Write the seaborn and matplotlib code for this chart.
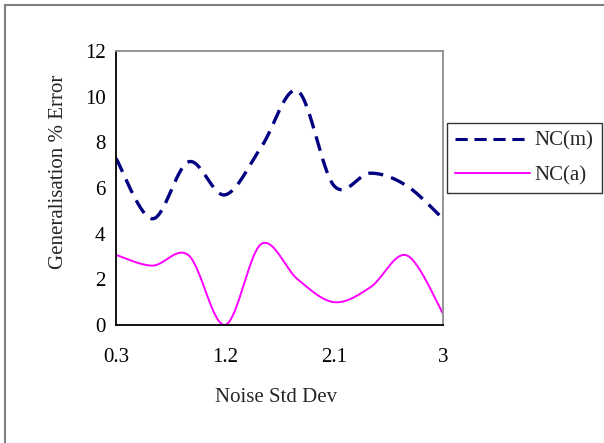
import numpy as np
import pandas as pd
import matplotlib
matplotlib.use("Agg")
import matplotlib.pyplot as plt
from matplotlib.lines import Line2D
from matplotlib.patches import Rectangle
import seaborn as sns

# values (Excel smoothed lines through these points)
noise_sd = [0.3, 0.6, 0.9, 1.2, 1.5, 1.8, 2.1, 2.4, 2.7, 3.0]
nc_m = [7.3, 4.65, 7.15, 5.7, 7.8, 10.25, 6.1, 6.65, 6.1, 4.65]
nc_a = [3.07, 2.6, 3.05, 0.0, 3.55, 2.0, 1.0, 1.65, 3.05, 0.5]
x_ticklabels = ["0.3", "1.2", "2.1", "3"]


def smooth(xs, ys, sx=121.3, sy=22.8, n=30):
    # Catmull-Rom path in screen-like units, like Excel's "smoothed line"
    p = np.column_stack([np.array(xs) * sx, np.array(ys) * sy])
    ext = np.vstack([p[0], p, p[-1]])
    out = []
    for i in range(len(p) - 1):
        p0, p1, p2, p3 = ext[i], ext[i + 1], ext[i + 2], ext[i + 3]
        m1 = (p2 - p0) / 2
        m2 = (p3 - p1) / 2
        t = np.linspace(0, 1, n, endpoint=False)[:, None]
        h00 = 2 * t**3 - 3 * t**2 + 1
        h10 = t**3 - 2 * t**2 + t
        h01 = -2 * t**3 + 3 * t**2
        h11 = t**3 - t**2
        out.append(h00 * p1 + h10 * m1 + h01 * p2 + h11 * m2)
    out.append(p[-1:])
    out = np.vstack(out)
    return out[:, 0] / sx, out[:, 1] / sy


sns.set_theme(style="white")
plt.rcParams["font.family"] = ["Liberation Serif", "DejaVu Serif"]
FS = 15

fig = plt.figure(figsize=(6.04, 4.43), dpi=100)
ax = fig.add_axes([116 / 604, 1 - 325 / 443, 327 / 604, 274 / 443])

mx, my = smooth(noise_sd, nc_m)
ax_, ay_ = smooth(noise_sd, nc_a)
df_m = pd.DataFrame({"x": mx, "y": my})
df_a = pd.DataFrame({"x": ax_, "y": ay_})

sns.lineplot(data=df_m, x="x", y="y", ax=ax, color="#000080", lw=2.4,
             linestyle=(0, (4.5, 2.5)), sort=False, estimator=None)
sns.lineplot(data=df_a, x="x", y="y", ax=ax, color="#FF00FF", lw=1.4,
             sort=False, estimator=None)

ax.set_xlim(0.3, 3.0)
ax.set_ylim(0, 12)
ax.set_xticks(noise_sd)
ax.set_xticklabels([x_ticklabels[i // 3] if i % 3 == 0 else "" for i in range(len(noise_sd))])
ax.set_yticks(range(0, 13, 2))
ax.tick_params(axis="both", direction="inout", length=9, width=1.0,
               colors="black", labelsize=FS)
ax.tick_params(axis="y", pad=3)
ax.tick_params(axis="x", pad=12)

for side in ["left", "bottom"]:
    ax.spines[side].set_color("black")
    ax.spines[side].set_linewidth(1.3)
for side in ["top", "right"]:
    ax.spines[side].set_color("#8c8c8c")
    ax.spines[side].set_linewidth(1.3)

ax.set_xlabel("Noise Std Dev", fontsize=FS)
ax.set_ylabel("Generalisation % Error", fontsize=FS)
ax.xaxis.set_label_coords(0.49, -0.263)
ax.xaxis.label.set_va("center")
ax.yaxis.set_label_coords(-0.177, 0.558)
ax.yaxis.label.set_va("center")

handles = [Line2D([], [], color="#000080", lw=2.2, linestyle=(0, (4, 2.2))),
           Line2D([], [], color="#FF00FF", lw=1.4)]
leg = fig.legend(handles, ["NC(m)", "NC(a)"], loc="upper left",
                 bbox_to_anchor=(447 / 604, 1 - 123 / 443), fontsize=FS,
                 frameon=True, fancybox=False, handlelength=3.6,
                 handletextpad=0.2, borderpad=0.4, labelspacing=0.7,
                 borderaxespad=0)
leg.get_frame().set_edgecolor("black")
leg.get_frame().set_linewidth(1.0)

# outer chart-area border
fig.patches.append(Rectangle((5 / 604, -0.1), 1.2, 1.1 - 5 / 443,
                             transform=fig.transFigure, fill=False,
                             edgecolor="#7f7f7f", lw=1.5, zorder=0))

fig.savefig("out.png", dpi=100)
